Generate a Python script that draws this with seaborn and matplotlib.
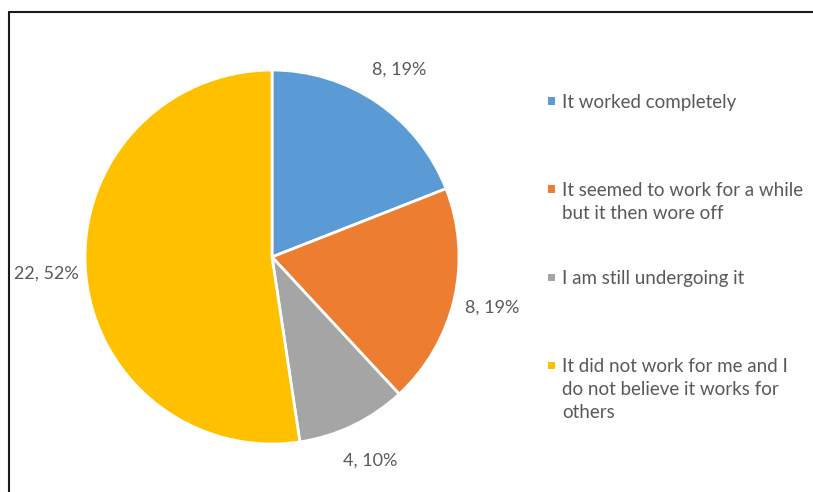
import matplotlib
matplotlib.use("Agg")
import matplotlib.pyplot as plt
from matplotlib.lines import Line2D
from matplotlib.patches import Rectangle
import seaborn as sns

categories = [
    "It worked completely",
    "It seemed to work for a while\nbut it then wore off",
    "I am still undergoing it",
    "It did not work for me and I\ndo not believe it works for\nothers",
]
counts = [8, 8, 4, 22]
percents = [19, 19, 10, 52]
colors = ["#5B9BD5", "#ED7D31", "#A5A5A5", "#FFC000"]

sns.set_theme(style="white")
plt.rcParams["font.family"] = ["Lato", "DejaVu Sans"]
text_color = "#595959"

W, H = 813, 492
fig = plt.figure(figsize=(W / 100, H / 100), dpi=100)
fig.patch.set_facecolor("white")

cx, cy, r = 272, 257, 187
ax = fig.add_axes([(cx - r) / W, (H - cy - r) / H, 2 * r / W, 2 * r / H])

data_labels = [f"{c}, {p}%" for c, p in zip(counts, percents)]
wedges, texts = ax.pie(
    counts,
    colors=colors,
    startangle=90,
    counterclock=False,
    labels=data_labels,
    labeldistance=1.21,
    wedgeprops=dict(edgecolor="white", linewidth=2),
    textprops=dict(color=text_color, fontsize=13, ha="center", va="center"),
)
ax.set_xlim(-1, 1)
ax.set_ylim(-1, 1)
ax.set_aspect("equal")

# legend drawn as marker + text rows (first-line aligned, like Excel)
step = 88         # px between legend entries (first lines)
y = 101           # px from top, centre of first legend line
for cat, col in zip(categories, colors):
    yf = 1 - y / H
    fig.add_artist(Rectangle((548 / W, yf - 3.5 / H), 7 / W, 7 / H,
                             facecolor=col, edgecolor="none",
                             transform=fig.transFigure))
    fig.text(562 / W, 1 - (y - 7) / H, cat, color=text_color, fontsize=13.5,
             ha="left", va="top", linespacing=1.42)
    y += step

# outer frame (top and left edges visible)
fig.add_artist(Line2D([9 / W, 1], [1 - 12 / H, 1 - 12 / H], color="#1a1a1a", linewidth=1.5))
fig.add_artist(Line2D([9 / W, 9 / W], [0, 1 - 12 / H], color="#1a1a1a", linewidth=1.5))

fig.savefig("out.png", dpi=100, facecolor="white")
